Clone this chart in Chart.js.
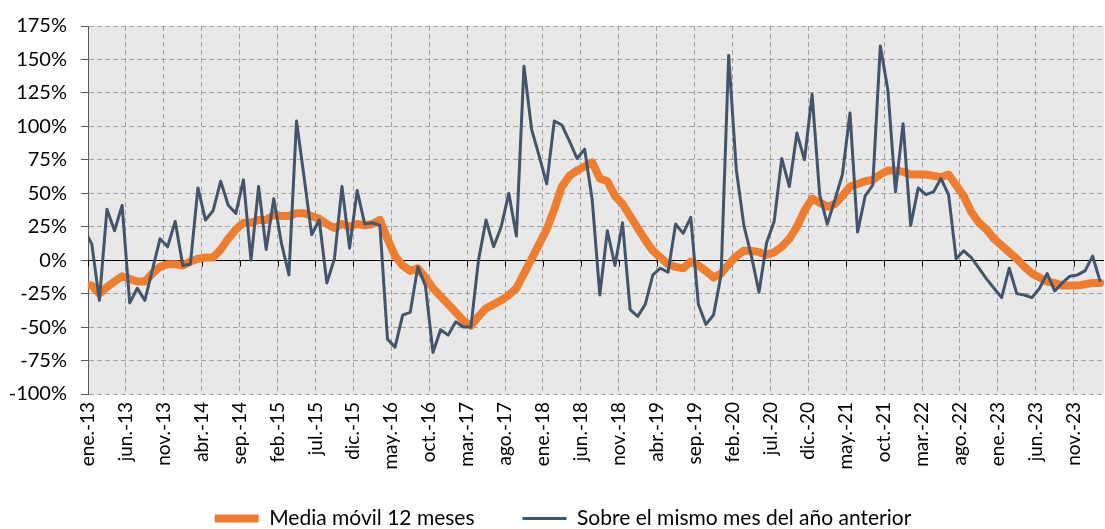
<!DOCTYPE html>
<html>
<head>
<meta charset="utf-8">
<script src="https://cdn.jsdelivr.net/npm/chart.js@4.4.1/dist/chart.umd.min.js"></script>
<style>
html,body{margin:0;padding:0;background:#fff;}
#wrap{width:1105px;height:529px;}
</style>
</head>
<body>
<div id="wrap"><canvas id="c" width="1105" height="529"></canvas></div>
<script>
// Tick labels shown every 5 months (starting at ene.-13)
const tickLabels = ['ene.-13','jun.-13','nov.-13','abr.-14','sep.-14','feb.-15','jul.-15','dic.-15',
  'may.-16','oct.-16','mar.-17','ago.-17','ene.-18','jun.-18','nov.-18','abr.-19','sep.-19',
  'feb.-20','jul.-20','dic.-20','may.-21','oct.-21','mar.-22','ago.-22','ene.-23','jun.-23','nov.-23'];

// Monthly values from dic.-12 (index -1, clipped at the left edge) to feb.-24
const firstMonthIndex = -1;

const mediaMovil = [
  -18,-19,-25,-20,-16,-12,-14,-16,-16,-10,-5,-3,-3,-4,-1,1,2,2,8,16,23,28,
  28,30,30,34,33,33,35,35,33,31,27,24,27,25,27,26,27,30,16,3,-4,-8,-6,-13,
  -21,-27,-33,-39,-45,-49,-42,-36,-33,-30,-26,-21,-10,1,12,23,38,55,63,67,70,73,
  61,59,48,42,33,24,15,7,2,-3,-5,-6,-1,-4,-8,-13,-10,-3,3,7,7,6,4,6,
  10,16,25,37,46,43,40,42,48,55,57,59,60,64,67,67,66,64,64,64,63,62,
  64,56,48,36,28,23,16,11,6,1,-5,-10,-13,-16,-17,-19,-19,-19,-18,-17,-17
];

const mismoMes = [
  23,12,-30,38,22,41,-32,-21,-30,-7,16,10,29,-4,-3,54,30,37,59,41,35,60,
  0,55,8,46,13,-11,104,62,19,30,-17,1,55,9,52,27,28,26,-59,-65,-41,-39,
  -5,-19,-69,-52,-56,-46,-50,-50,0,30,10,25,50,18,145,98,78,57,104,101,89,76,
  83,45,-26,22,-4,28,-37,-42,-33,-11,-6,-9,27,20,32,-33,-48,-41,-11,153,
  68,26,3,-24,13,29,76,55,95,75,124,49,27,45,64,110,21,48,56,160,
  127,51,102,26,54,49,51,61,49,1,7,2,-6,-14,-21,-28,-6,-25,-26,-28,-21,-10,
  -23,-17,-12,-11,-8,3,-16
];

// each month is centred between monthly tick positions (Excel style)
const toPoints = arr => arr.map((v, i) => ({x: firstMonthIndex + i + 0.5, y: v}));

const FONT = 'Lato';
const bgPlugin = {
  id: 'plotBg',
  afterLayout(chart) {
    // let the rotated month labels extend below the axis box (no clipping)
    chart.scales.x.bottom = chart.height;
    // nudge the legend slightly right, as in the original
    if (chart.legend) { chart.legend.left += 11; chart.legend.right += 11; }
  },
  beforeDraw(chart) {
    const {ctx, chartArea: a} = chart;
    ctx.save();
    ctx.fillStyle = '#e8e8e8';
    ctx.fillRect(a.left, a.top, a.right - a.left, a.bottom - a.top);
    ctx.restore();
  },
  beforeDatasetsDraw(chart) {
    const {ctx} = chart;
    const xs = chart.scales.x, ys = chart.scales.y;
    const y0 = Math.round(ys.getPixelForValue(0)) + 0.5;
    ctx.save();
    ctx.strokeStyle = '#000';
    ctx.lineWidth = 1;
    ctx.beginPath();
    xs.ticks.forEach(t => {
      const x = Math.round(xs.getPixelForValue(t.value)) + 0.5;
      ctx.moveTo(x, y0);
      ctx.lineTo(x, y0 + 6);
    });
    ctx.stroke();
    ctx.restore();
  }
};

new Chart(document.getElementById('c'), {
  type: 'line',
  data: {
    datasets: [
      {
        label: 'Media móvil 12 meses',
        data: toPoints(mediaMovil),
        borderColor: '#ED7D31',
        backgroundColor: '#ED7D31',
        borderWidth: 8,
        borderCapStyle: 'round',
        borderJoinStyle: 'round',
        pointRadius: 0,
        tension: 0,
        order: 2
      },
      {
        label: 'Sobre el mismo mes del año anterior',
        data: toPoints(mismoMes),
        borderColor: '#44546A',
        backgroundColor: '#44546A',
        borderWidth: 3,
        borderJoinStyle: 'round',
        pointRadius: 0,
        tension: 0,
        order: 1
      }
    ]
  },
  options: {
    responsive: false,
    animation: false,
    layout: {padding: {top: 20, right: 1, bottom: -10, left: 0}},
    plugins: {
      tooltip: {enabled: false},
      legend: {
        position: 'bottom',
        labels: {
          usePointStyle: true,
          pointStyle: 'line',
          pointStyleWidth: 44,
          padding: 48,
          color: '#000',
          font: {family: FONT, size: 21},
          sort: (a, b) => a.datasetIndex - b.datasetIndex
        }
      }
    },
    scales: {
      x: {
        type: 'linear',
        min: 0,
        max: 134,
        afterBuildTicks: s => { s.ticks = tickLabels.map((_, i) => ({value: i * 5})); },
        afterFit: s => { s.height = 66; },
        ticks: {
          autoSkip: false,
          minRotation: 90,
          maxRotation: 90,
          padding: 8,
          color: '#000',
          font: {family: FONT, size: 19},
          callback: v => tickLabels[Math.round(v / 5)]
        },
        grid: {color: '#a3a3a3', lineWidth: 1, drawTicks: false},
        border: {display: false, dash: [5, 3]}
      },
      y: {
        min: -100,
        max: 175,
        afterFit: s => { s.width = 88; },
        ticks: {
          stepSize: 25,
          padding: 14,
          color: '#000',
          font: {family: FONT, size: 20},
          callback: v => v + '%'
        },
        grid: {
          color: c => (c.tick && c.tick.value === 0) ? '#000' : '#a3a3a3',
          tickColor: '#595959',
          tickLength: 7,
          lineWidth: 1
        },
        border: {
          display: true,
          color: '#595959',
          width: 1,
          dash: c => (c.tick && c.tick.value === 0) ? [] : [5, 3]
        }
      }
    }
  },
  plugins: [bgPlugin]
});
</script>
</body>
</html>
